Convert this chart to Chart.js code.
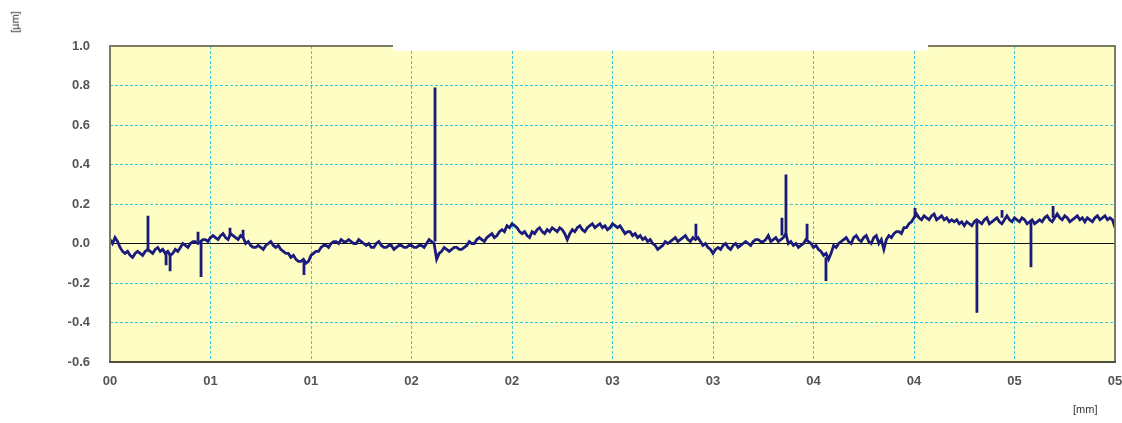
<!DOCTYPE html>
<html>
<head>
<meta charset="utf-8">
<script src="https://cdn.jsdelivr.net/npm/chart.js@4/dist/chart.umd.min.js"></script>
<style>
  html,body{margin:0;padding:0;background:#fff;}
  #wrap{position:relative;width:1122px;height:423px;}
  #c{position:absolute;left:0;top:0;}
  .unit{position:absolute;font-family:"Liberation Sans",Arial,sans-serif;font-size:11px;color:#333;}
  #uy{left:4px;top:16px;transform:rotate(-90deg);transform-origin:center;}
  #ux{left:1073px;top:403px;}
</style>
</head>
<body>
<div id="wrap">
  <canvas id="c" width="1122" height="423"></canvas>
  <div class="unit" id="uy">[µm]</div>
  <div class="unit" id="ux">[mm]</div>
</div>
<script>
// ---- data ----
const sampleStepMm = 0.00125;          // spacing of the profile samples along x (mm)
const profileUm = [
  0.02, 0.00, 0.03, 0.01,-0.02,-0.04,-0.05,-0.04,-0.06,-0.07,
 -0.05,-0.04,-0.05,-0.06,-0.04,-0.03,-0.04,-0.05,-0.03,-0.02,
 -0.04,-0.03,-0.05,-0.04,-0.06,-0.05,-0.03,-0.04,-0.02, 0.00,
 -0.01,-0.02, 0.00, 0.01, 0.01, 0.00, 0.01, 0.02, 0.02, 0.01,
  0.03, 0.04, 0.03, 0.02, 0.04, 0.05, 0.03, 0.02, 0.05, 0.04,
  0.03, 0.02, 0.04, 0.03, 0.00, 0.01,-0.01,-0.02,-0.02,-0.01,
 -0.02,-0.03,-0.01, 0.00, 0.01,-0.01,-0.02,-0.01,-0.03,-0.04,
 -0.05,-0.05,-0.07,-0.06,-0.08,-0.09,-0.09,-0.08,-0.10,-0.09,
 -0.06,-0.05,-0.04,-0.04,-0.02,-0.01,-0.01,-0.02, 0.00, 0.01,
  0.01, 0.00, 0.02, 0.01, 0.01, 0.02, 0.01, 0.00, 0.00, 0.02,
  0.01, 0.00,-0.01, 0.00,-0.02,-0.02, 0.00, 0.01,-0.01,-0.02,
 -0.02,-0.01,-0.01,-0.03,-0.02,-0.01,-0.01,-0.02,-0.02,-0.01,
 -0.01,-0.02,-0.02,-0.01,-0.01,-0.02, 0.00, 0.02, 0.01, 0.00,
 -0.08,-0.05,-0.04,-0.02,-0.03,-0.04,-0.03,-0.02,-0.02,-0.03,
 -0.03,-0.02,-0.01, 0.01, 0.00, 0.00, 0.02, 0.03, 0.02, 0.01,
  0.03, 0.04, 0.05, 0.03, 0.04, 0.06, 0.07, 0.06, 0.09, 0.08,
  0.10, 0.09, 0.08, 0.06, 0.05, 0.06, 0.04, 0.03, 0.06, 0.05,
  0.07, 0.08, 0.06, 0.05, 0.07, 0.06, 0.08, 0.07, 0.06, 0.08,
  0.07, 0.05, 0.02, 0.05, 0.07, 0.06, 0.08, 0.09, 0.07, 0.06,
  0.08, 0.09, 0.10, 0.08, 0.09, 0.10, 0.08, 0.09, 0.07, 0.08,
  0.10, 0.09, 0.08, 0.09, 0.07, 0.05, 0.06, 0.06, 0.04, 0.05,
  0.03, 0.04, 0.02, 0.03, 0.01, 0.02, 0.00,-0.01,-0.03,-0.02,
 -0.01, 0.01, 0.00, 0.01, 0.02, 0.03, 0.01, 0.02, 0.03, 0.04,
  0.02, 0.01, 0.03, 0.02, 0.03, 0.01,-0.01, 0.00,-0.02,-0.03,
 -0.05,-0.03,-0.02,-0.03,-0.01, 0.00,-0.02,-0.03,-0.01, 0.00,
 -0.02,-0.01, 0.00, 0.01, 0.00,-0.01, 0.01, 0.02, 0.02, 0.01,
  0.01, 0.02, 0.04, 0.01, 0.02, 0.03, 0.01, 0.02, 0.03, 0.05,
  0.00, 0.01,-0.01, 0.00,-0.02,-0.01, 0.00, 0.02, 0.01, 0.00,
 -0.02,-0.01,-0.03,-0.04,-0.06,-0.05,-0.08,-0.05,-0.01,-0.02,
  0.00, 0.01, 0.02, 0.03, 0.01, 0.00, 0.03, 0.04, 0.02, 0.01,
  0.03, 0.04, 0.01, 0.00, 0.03, 0.04, 0.00, 0.02,-0.03, 0.02,
  0.04, 0.03, 0.05, 0.06, 0.06, 0.05, 0.08, 0.08, 0.10, 0.11,
  0.13, 0.15, 0.13, 0.12, 0.14, 0.13, 0.12, 0.14, 0.15, 0.12,
  0.13, 0.14, 0.12, 0.13, 0.11, 0.12, 0.11, 0.12, 0.10, 0.11,
  0.09, 0.11, 0.10, 0.09, 0.11, 0.12, 0.11, 0.10, 0.12, 0.13,
  0.10, 0.11, 0.12, 0.13, 0.11, 0.10, 0.12, 0.14, 0.12, 0.11,
  0.13, 0.12, 0.11, 0.13, 0.12, 0.10, 0.11, 0.12, 0.10, 0.11,
  0.12, 0.11, 0.13, 0.14, 0.12, 0.11, 0.13, 0.15, 0.13, 0.12,
  0.14, 0.13, 0.11, 0.12, 0.13, 0.14, 0.12, 0.13, 0.11, 0.13,
  0.12, 0.11, 0.13, 0.14, 0.12, 0.13, 0.14, 0.12, 0.13, 0.12,
  0.08
];
// narrow spikes: position (mm), foot value and tip value (µm)
const spikeXMm   = [0.0189, 0.0279, 0.0299, 0.0438, 0.0453, 0.0597, 0.0662, 0.0965, 0.1617, 0.2915, 0.3343, 0.3363, 0.3468, 0.3562, 0.4005, 0.4313, 0.4438, 0.4582, 0.4692];
const spikeFoot  = [-0.04, -0.05, -0.05, 0.01, 0.01, 0.04, 0.03, -0.09, 0.01, 0.03, 0.04, 0.04, 0.02, -0.07, 0.13, 0.11, 0.13, 0.11, 0.13];
const spikeTip   = [0.14, -0.11, -0.14, 0.06, -0.17, 0.08, 0.07, -0.16, 0.79, 0.10, 0.13, 0.35, 0.10, -0.19, 0.18, -0.35, 0.17, -0.12, 0.19];
const xTickLabels = ['00','01','01','02','02','03','03','04','04','05','05'];
const yMin = -0.6, yMax = 1.0, yStep = 0.2;
const xMin = 0, xMax = 0.5, xStep = 0.05;

// ---- styles ----
const plotBg = '#FEFEC4';
const gridCyan = '#3cc6dc';
const lineNavy = '#1b1b7c';
const frameColor = '#7b7b62';
const topGapMm = [0.1408, 0.4070]; // part of the top frame that is missing in the original

const profilePts = profileUm.map((v, i) => ({x: i * sampleStepMm, y: v}));
const spikePts = [];
spikeXMm.forEach((x, i) => {
  spikePts.push({x: x, y: spikeFoot[i]});
  spikePts.push({x: x, y: spikeTip[i]});
  spikePts.push({x: x, y: null});
});

const framePlugin = {
  id: 'frame',
  beforeDraw(chart) {
    const {ctx, chartArea: a} = chart;
    ctx.save();
    ctx.fillStyle = plotBg;
    ctx.fillRect(a.left, a.top, a.right - a.left, a.bottom - a.top);
    ctx.restore();
  },
  beforeDatasetsDraw(chart) {
    const {ctx, chartArea: a, scales} = chart;
    const g0 = scales.x.getPixelForValue(topGapMm[0]);
    const g1 = scales.x.getPixelForValue(topGapMm[1]);
    ctx.save();
    ctx.fillStyle = '#ffffff';
    ctx.fillRect(g0, a.top - 2, g1 - g0, 7);
    ctx.restore();
  },
  afterDraw(chart) {
    const {ctx, chartArea: a, scales} = chart;
    const g0 = scales.x.getPixelForValue(topGapMm[0]);
    const g1 = scales.x.getPixelForValue(topGapMm[1]);
    ctx.save();
    ctx.strokeStyle = frameColor;
    ctx.lineWidth = 2;
    ctx.beginPath();
    ctx.moveTo(a.left, a.top); ctx.lineTo(a.left, a.bottom);
    ctx.moveTo(a.right, a.top); ctx.lineTo(a.right, a.bottom);
    ctx.moveTo(a.left - 1, a.top); ctx.lineTo(g0, a.top);
    ctx.moveTo(g1, a.top); ctx.lineTo(a.right + 1, a.top);
    ctx.stroke();
    ctx.strokeStyle = '#4f4f3c';
    ctx.beginPath();
    ctx.moveTo(a.left - 1, a.bottom); ctx.lineTo(a.right + 1, a.bottom);
    ctx.stroke();
    ctx.restore();
  }
};

const tickFont = {family: '"Liberation Sans", Arial, sans-serif', size: 13, weight: 'bold'};

new Chart(document.getElementById('c'), {
  type: 'line',
  data: {
    datasets: [
      {data: profilePts, borderColor: lineNavy, borderWidth: 2.8, pointRadius: 0, tension: 0, fill: false},
      {data: spikePts, borderColor: lineNavy, borderWidth: 2.8, pointRadius: 0, tension: 0, fill: false, spanGaps: false}
    ]
  },
  options: {
    responsive: false,
    animation: false,
    devicePixelRatio: 1,
    layout: {padding: {left: 0, right: 7, top: 46, bottom: 0}},
    plugins: {legend: {display: false}, tooltip: {enabled: false}},
    scales: {
      x: {
        type: 'linear', min: xMin, max: xMax,
        afterFit(s) { s.height = 61; s.paddingLeft = 0; s.paddingRight = 0; },
        ticks: {stepSize: xStep, padding: 12, color: '#555', font: tickFont, maxRotation: 0, autoSkip: false,
          callback: (v) => xTickLabels[Math.round(v / xStep)] ?? ''},
        grid: {drawTicks: false,
          color: (c) => (c.tick && (Math.abs(c.tick.value - xMin) < 1e-9 || Math.abs(c.tick.value - xMax) < 1e-9)) ? 'rgba(0,0,0,0)' : gridCyan,
          lineWidth: 1},
        border: {display: false, dash: [3, 2]}
      },
      y: {
        type: 'linear', min: yMin, max: yMax,
        afterFit(s) { s.width = 110; },
        ticks: {stepSize: yStep, padding: 20, color: '#555', font: tickFont,
          callback: (v) => (Math.abs(v) < 1e-9 ? 0 : v).toFixed(1)},
        grid: {drawTicks: false,
          color: (c) => {
            if (!c.tick) return gridCyan;
            const v = c.tick.value;
            if (Math.abs(v - yMin) < 1e-9 || Math.abs(v - yMax) < 1e-9) return 'rgba(0,0,0,0)';
            if (Math.abs(v) < 1e-9) return '#111';
            return gridCyan;
          },
          lineWidth: 1},
        border: {display: false, dash: (c) => (c.tick && Math.abs(c.tick.value) < 1e-9) ? [] : [3, 2]}
      }
    }
  },
  plugins: [framePlugin]
});
</script>
</body>
</html>
